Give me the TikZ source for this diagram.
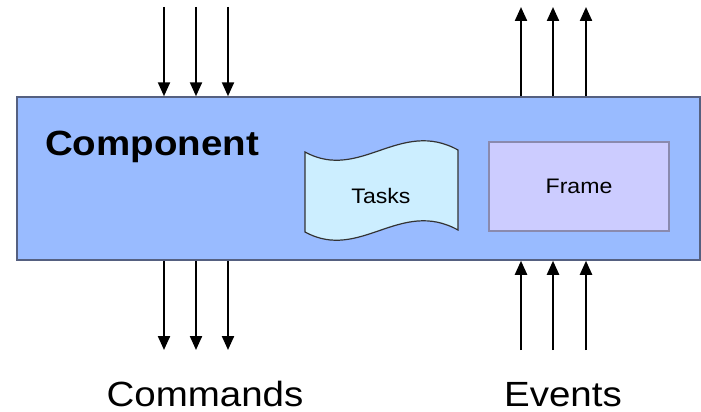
\documentclass[tikz,border=0pt]{standalone}
\usepackage{fontspec}
\setmainfont{Liberation Sans}
\usetikzlibrary{arrows.meta}
\definecolor{compfill}{HTML}{99BBFF}
\definecolor{compline}{HTML}{556080}
\definecolor{taskfill}{HTML}{CCEEFF}
\definecolor{framefill}{HTML}{CCCCFF}
\definecolor{frameline}{HTML}{8A8AAE}
\tikzset{
  bigtext/.style={font=\fontsize{35}{40}\selectfont, inner sep=0pt, text depth=0pt},
  smalltext/.style={font=\fontsize{21}{25}\selectfont, inner sep=0pt},
  sig/.style={line width=2.2pt, -{Triangle[width=12pt,length=14pt]}},
}
\begin{document}
\begin{tikzpicture}[x=1pt,y=-1pt]
\useasboundingbox (0,0) rectangle (701,412);

% component body
\node[draw=compline, fill=compfill, line width=1.5pt, minimum width=683pt,
      minimum height=163pt, inner sep=0pt] (comp) at (358.5,178.5) {};
\node[bigtext, anchor=base west] (title) at (45,155)
  {\scalebox{1.1}[1]{\bfseries Component}};

% tasks (tape shape)
\draw[fill=taskfill, draw=black!80, line width=1.2pt]
  (305,152) .. controls (360,182) and (400,118) .. (458,150)
  -- (458,230) .. controls (400,198) and (360,262) .. (305,232) -- cycle;
\node[smalltext] (tasks) at (381,196) {\scalebox{1.1}[1]{Tasks}};

% frame
\node[draw=frameline, fill=framefill, line width=1.2pt, minimum width=180pt,
      minimum height=89pt, inner sep=0pt] (frame) at (579,186.5) {};
\node[smalltext] (framelabel) at (579,186) {\scalebox{1.1}[1]{Frame}};

% signal end points
\foreach \i/\x in {1/164,2/196,3/228} {
  \coordinate (cin\i) at (\x,7);
  \coordinate (cout\i) at (\x,350);
}
\foreach \i/\x in {1/521,2/553,3/586} {
  \coordinate (eout\i) at (\x,7);
  \coordinate (ein\i) at (\x,350);
}

% commands: into the top, out of the bottom
\foreach \i in {1,2,3} {
  \draw[sig] (cin\i) -- (cin\i |- comp.north);
  \draw[sig] (cin\i |- comp.south) -- (cout\i);
}
% events: into the bottom, out of the top
\foreach \i in {1,2,3} {
  \draw[sig] (ein\i) -- (ein\i |- comp.south);
  \draw[sig] (eout\i |- comp.north) -- (eout\i);
}

\node[bigtext, anchor=base] (commands) at (205,406) {\scalebox{1.1}[1]{Commands}};
\node[bigtext, anchor=base] (events) at (563,406) {\scalebox{1.1}[1]{Events}};
\end{tikzpicture}
\end{document}
